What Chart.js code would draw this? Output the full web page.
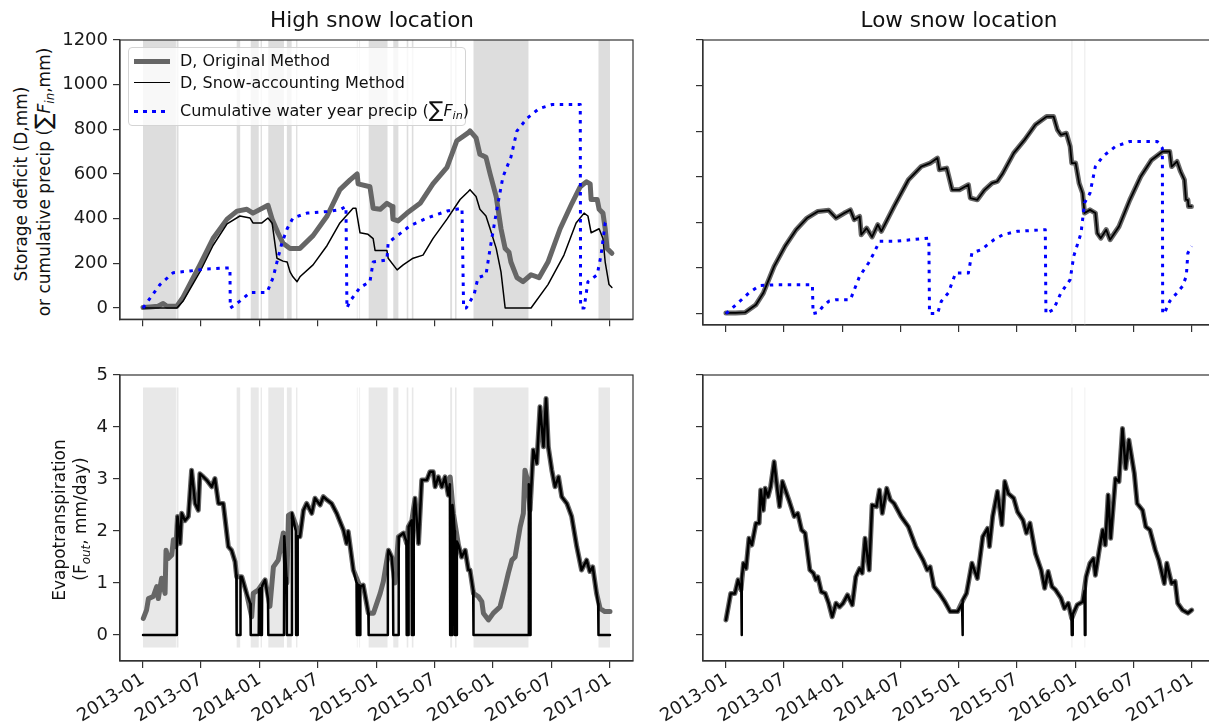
<!DOCTYPE html>
<html><head><meta charset="utf-8">
<script src="https://cdn.jsdelivr.net/npm/chart.js@4.4.1/dist/chart.umd.min.js"></script>
<style>
html,body{margin:0;padding:0;background:#fff;width:1209px;height:726px;overflow:hidden;position:relative;font-family:"DejaVu Sans",sans-serif;color:#111;}
canvas{position:absolute;}
.title{position:absolute;font-size:21.5px;white-space:nowrap;transform:translateX(-50%);line-height:24px;}
.ylab{position:absolute;font-size:17px;white-space:nowrap;transform:translate(-50%,-50%) rotate(-90deg);line-height:20px;}
.sig{font-size:1.35em;line-height:0;position:relative;top:0.05em;}
.sb{font-size:0.7em;font-style:italic;position:relative;top:0.3em;}
#legend{position:absolute;left:128px;top:47px;width:338px;height:79px;border:1px solid #d4d4d4;border-radius:4px;background:rgba(255,255,255,0.8);box-sizing:border-box;z-index:5;}
.lrow{position:absolute;left:0;white-space:nowrap;font-size:16px;line-height:20px;}
.lline{position:absolute;left:5px;width:36px;}
.ltxt{position:absolute;left:51px;top:-10px;}
</style>
</head><body>
<canvas id="cTL" width="578" height="315" style="left:60px;top:20px"></canvas>
<canvas id="cTR" width="577" height="315" style="left:643px;top:20px"></canvas>
<canvas id="cBL" width="578" height="371" style="left:60px;top:355px"></canvas>
<canvas id="cBR" width="577" height="371" style="left:643px;top:355px"></canvas>

<div class="title" style="left:372px;top:8px">High snow location</div>
<div class="title" style="left:959px;top:8px">Low snow location</div>

<div class="ylab" style="left:21px;top:184px">Storage deficit (D,mm)</div>
<div class="ylab" style="left:45px;top:182px">or cumulative precip (<span class="sig">∑</span><i>F</i><span class="sb">in</span>,mm)</div>
<div class="ylab" style="left:59px;top:520px">Evapotranspiration</div>
<div class="ylab" style="left:81px;top:519px">(F<span class="sb">out</span>, mm/day)</div>

<div id="legend">
  <div class="lrow" style="top:13px"><div class="lline" style="top:-2.5px;border-top:5px solid #666"></div><div class="ltxt">D, Original Method</div></div>
  <div class="lrow" style="top:35px"><div class="lline" style="top:-0.75px;border-top:1.5px solid #000"></div><div class="ltxt">D, Snow-accounting Method</div></div>
  <div class="lrow" style="top:63px"><div class="lline" style="top:-1.5px;height:3px;background:repeating-linear-gradient(90deg,#0000ff 0 3.5px,transparent 3.5px 9px)"></div><div class="ltxt">Cumulative water year precip (<span class="sig">∑</span><i>F</i><span class="sb">in</span>)</div></div>
</div>

<script>
// ---------- axes ----------
// x values are days since 2013-01-01
const xTickDays   = [0, 181, 365, 546, 730, 911, 1095, 1277, 1461];
const xTickLabels = ['2013-01','2013-07','2014-01','2014-07','2015-01','2015-07','2016-01','2016-07','2017-01'];
const yTicksD  = [0, 200, 400, 600, 800, 1000, 1200];
const yTicksET = [0, 1, 2, 3, 4, 5];

// ---------- High snow location ----------
const hiDOriginal = [[0,2],[22,5],[47,8],[63,20],[75,8],[106,8],[125,48],[178,193],[219,311],[263,398],[294,434],[325,442],[344,425],[391,460],[404,398],[422,337],[438,290],[460,267],[491,267],[532,324],[576,412],[616,530],[648,574],[670,600],[673,556],[710,543],[720,447],[742,442],[763,469],[779,455],[782,398],[798,390],[826,425],[867,469],[907,556],[951,630],[982,749],[1017,784],[1023,793],[1042,762],[1054,688],[1073,675],[1086,600],[1105,499],[1120,355],[1133,267],[1145,250],[1151,206],[1170,136],[1189,118],[1214,149],[1239,136],[1267,206],[1305,355],[1342,469],[1368,543],[1387,565],[1399,556],[1402,486],[1421,486],[1427,442],[1439,425],[1446,355],[1452,267],[1467,245]];
const hiDSnow = [[0,0],[106,0],[125,30],[178,162],[219,280],[263,377],[303,412],[335,403],[344,381],[372,381],[391,403],[404,380],[419,223],[438,210],[451,206],[460,162],[469,140],[482,118],[491,140],[532,193],[576,280],[616,381],[657,447],[666,447],[679,337],[704,330],[720,311],[726,258],[763,258],[767,223],[795,171],[814,193],[845,223],[876,237],[907,311],[951,398],[992,486],[1017,521],[1023,530],[1042,499],[1054,442],[1073,412],[1086,355],[1105,267],[1120,162],[1133,0],[1214,0],[1267,105],[1317,237],[1355,381],[1380,425],[1392,412],[1402,337],[1427,355],[1439,311],[1446,206],[1458,105],[1467,92]];
const hiPrecip = [[0,0],[53,105],[94,158],[147,166],[200,175],[272,180],[273,0],[303,31],[335,70],[388,70],[407,136],[422,223],[435,293],[451,355],[469,403],[513,425],[576,432],[616,440],[635,455],[638,0],[648,31],[679,92],[710,118],[720,206],[763,215],[767,293],[804,333],[835,368],[889,403],[951,434],[998,447],[1003,0],[1011,0],[1036,61],[1048,136],[1073,149],[1086,267],[1105,425],[1126,587],[1151,675],[1170,793],[1202,850],[1239,893],[1280,911],[1368,911],[1369,0],[1380,0],[1392,118],[1421,149],[1433,237],[1446,381],[1455,390]];
const hiEtOriginal = [[1,0.32],[11,0.48],[17,0.70],[32,0.74],[43,0.93],[48,0.70],[58,1.09],[69,0.80],[72,1.63],[79,1.47],[90,1.54],[95,1.83],[103,1.70],[108,2.28],[116,1.76],[121,2.34],[131,2.20],[142,2.28],[152,3.17],[163,2.53],[173,2.40],[178,3.10],[189,3.04],[199,2.98],[215,2.85],[225,3.01],[236,2.53],[251,2.53],[267,1.70],[277,1.63],[288,1.41],[293,1.12],[309,1.12],[324,0.80],[340,0.35],[345,0.80],[361,0.87],[382,1.06],[397,0.55],[408,1.31],[423,1.44],[439,1.96],[450,1.00],[455,2.30],[465,2.34],[491,1.89],[502,2.40],[512,2.53],[528,2.34],[538,2.63],[554,2.50],[564,2.66],[575,2.60],[590,2.53],[606,2.34],[627,2.02],[637,1.76],[642,1.99],[658,1.25],[679,0.93],[689,0.96],[705,0.42],[721,0.42],[742,0.80],[752,1.03],[768,1.63],[778,1.50],[788,1.00],[799,1.89],[815,1.96],[825,1.76],[830,2.08],[841,2.20],[851,2.63],[862,1.76],[872,2.98],[888,2.98],[898,3.14],[908,3.14],[914,2.85],[924,3.04],[935,2.85],[945,3.04],[955,2.69],[961,3.04],[971,2.34],[987,1.73],[997,1.50],[1008,1.63],[1018,1.25],[1023,1.25],[1034,0.80],[1049,0.74],[1060,0.64],[1065,0.42],[1081,0.29],[1096,0.42],[1117,0.54],[1133,0.93],[1143,1.19],[1154,1.44],[1164,1.50],[1180,2.08],[1190,2.34],[1195,3.17],[1203,2.98],[1211,2.40],[1221,3.56],[1232,3.30],[1242,4.39],[1253,3.62],[1261,4.55],[1268,3.62],[1279,3.17],[1289,2.85],[1300,3.04],[1310,2.66],[1326,2.53],[1341,2.28],[1357,1.70],[1372,1.25],[1388,1.44],[1398,1.22],[1407,1.31],[1419,0.80],[1430,0.51],[1445,0.45],[1461,0.45]];
const hiEtSnow = [[0,0],[106,0],[106,2.1],[108,2.28],[116,1.76],[121,2.34],[131,2.20],[142,2.28],[152,3.17],[163,2.53],[173,2.40],[178,3.10],[189,3.04],[199,2.98],[215,2.85],[225,3.01],[236,2.53],[251,2.53],[267,1.70],[277,1.63],[288,1.41],[292,1.15],[293,0],[304,0],[305,1.12],[309,1.12],[324,0.80],[336,0.6],[337,0],[362,0],[363,0.87],[367,0.9],[368,0],[372,0],[373,0.95],[382,1.06],[391,0.7],[392,0],[441,0],[442,1.9],[449,1.1],[450,0],[465,0],[466,2.34],[478,2.0],[479,0],[483,0],[484,1.9],[491,1.89],[502,2.40],[512,2.53],[528,2.34],[538,2.63],[554,2.50],[564,2.66],[575,2.60],[590,2.53],[606,2.34],[627,2.02],[637,1.76],[642,1.99],[658,1.25],[668,1.0],[669,0],[671,0],[672,0.97],[676,0.95],[677,0],[679,0],[680,0.93],[689,0.96],[700,0.6],[705,0.42],[706,0],[765,0],[766,1.55],[768,1.63],[778,1.50],[782,1.2],[783,0],[799,0],[800,1.89],[815,1.96],[824,1.8],[825,0],[830,0],[831,2.08],[840,2.2],[841,0],[846,0],[847,2.4],[851,2.63],[862,1.76],[872,2.98],[888,2.98],[898,3.14],[908,3.14],[914,2.85],[924,3.04],[935,2.85],[945,3.04],[955,2.69],[960,2.9],[961,0],[967,0],[968,2.5],[971,2.34],[975,2.0],[976,0],[981,0],[982,1.8],[987,1.73],[997,1.50],[1008,1.63],[1018,1.25],[1023,1.25],[1033,0.85],[1034,0],[1206,0],[1207,2.9],[1210,2.5],[1211,0],[1212,0],[1213,2.6],[1221,3.56],[1232,3.30],[1242,4.39],[1253,3.62],[1261,4.55],[1268,3.62],[1279,3.17],[1289,2.85],[1300,3.04],[1310,2.66],[1326,2.53],[1341,2.28],[1357,1.70],[1372,1.25],[1388,1.44],[1398,1.22],[1407,1.31],[1419,0.80],[1424,0.6],[1425,0],[1461,0]];
const hiSnowDays = [[0,103],[105,111],[293,304],[337,362],[368,372],[392,441],[450,465],[479,483],[669,671],[677,679],[706,765],[783,799],[825,830],[841,846],[961,967],[976,981],[1034,1206],[1211,1212],[1425,1461]];

// ---------- Low snow location ----------
const loD = [[0,3],[30,3],[60,5],[72,17],[94,39],[117,90],[151,207],[185,295],[220,368],[254,419],[288,448],[322,453],[345,419],[370,440],[390,455],[402,412],[419,426],[424,346],[441,375],[458,336],[476,390],[487,361],[527,470],[572,587],[612,645],[640,660],[663,682],[669,631],[692,638],[709,543],[732,543],[760,565],[766,507],[788,499],[811,543],[834,572],[851,580],[868,616],[902,704],[936,762],[970,828],[1005,864],[1027,864],[1039,806],[1050,784],[1067,791],[1079,733],[1084,660],[1096,660],[1107,572],[1118,528],[1124,441],[1141,455],[1158,441],[1164,353],[1175,331],[1192,368],[1204,324],[1232,382],[1266,499],[1300,601],[1334,674],[1369,711],[1391,711],[1397,645],[1414,667],[1425,623],[1437,587],[1442,499],[1448,499],[1450,470],[1459,470]];
const loPrecip = [[0,0],[38,47],[72,91],[106,123],[163,127],[271,127],[273,0],[290,5],[300,25],[322,54],[345,61],[390,61],[419,164],[447,222],[464,266],[481,317],[527,317],[636,331],[638,0],[663,0],[675,54],[697,91],[720,178],[760,178],[771,266],[800,280],[840,324],[868,346],[914,361],[1001,368],[1003,0],[1027,18],[1050,91],[1079,149],[1090,251],[1113,353],[1124,485],[1141,528],[1158,645],[1181,689],[1221,733],[1266,755],[1352,755],[1368,726],[1369,0],[1374,0],[1391,54],[1414,91],[1431,120],[1443,164],[1448,266],[1460,295]];
const loEtOriginal = [[0,0.29],[15,0.8],[28,0.8],[38,1.06],[47,0.87],[55,1.38],[63,1.28],[72,1.86],[81,1.73],[94,2.15],[104,2.15],[109,2.79],[117,2.4],[123,2.82],[132,2.66],[140,2.85],[151,3.33],[160,2.85],[168,2.47],[177,2.95],[197,2.6],[214,2.28],[225,2.34],[237,2.02],[248,1.96],[263,1.25],[274,1.19],[282,1.06],[288,1.12],[299,0.83],[311,0.8],[322,0.61],[333,0.35],[345,0.61],[356,0.54],[367,0.61],[381,0.77],[396,0.58],[407,1.12],[419,1.28],[427,1.19],[436,1.86],[449,1.25],[458,2.5],[472,2.47],[481,2.79],[490,2.34],[504,2.82],[515,2.6],[527,2.53],[549,2.28],[572,2.08],[595,1.7],[618,1.44],[631,1.25],[640,1.31],[652,0.93],[669,0.8],[686,0.64],[703,0.45],[726,0.45],[743,0.67],[754,0.8],[771,1.38],[788,1.09],[805,1.89],[820,2.05],[826,1.7],[836,2.28],[851,2.76],[865,2.12],[874,2.95],[885,2.72],[902,2.63],[914,2.37],[931,2.21],[942,1.96],[953,2.15],[970,1.57],[988,1.25],[999,0.9],[1010,1.22],[1022,0.93],[1033,0.87],[1050,0.71],[1061,0.51],[1073,0.61],[1084,0.32],[1101,0.58],[1118,0.64],[1129,1.12],[1141,1.38],[1152,1.47],[1158,1.15],[1170,1.63],[1181,2.02],[1189,1.73],[1198,2.69],[1206,1.86],[1221,3.01],[1232,2.95],[1243,3.97],[1253,3.2],[1263,3.75],[1280,3.11],[1289,2.53],[1306,2.4],[1316,2.08],[1329,2.02],[1346,1.63],[1357,1.44],[1374,0.99],[1382,1.38],[1397,0.99],[1408,1.03],[1416,0.61],[1431,0.48],[1448,0.42],[1460,0.48]];
const loEtSnow = [[0,0.29],[15,0.8],[28,0.8],[38,1.06],[47,0.87],[48,0.9],[49,0],[50,1.1],[55,1.38],[63,1.28],[72,1.86],[81,1.73],[94,2.15],[104,2.15],[109,2.79],[117,2.4],[123,2.82],[132,2.66],[140,2.85],[151,3.33],[160,2.85],[168,2.47],[177,2.95],[197,2.6],[214,2.28],[225,2.34],[237,2.02],[248,1.96],[263,1.25],[274,1.19],[282,1.06],[288,1.12],[299,0.83],[311,0.8],[322,0.61],[333,0.35],[345,0.61],[356,0.54],[367,0.61],[381,0.77],[396,0.58],[407,1.12],[419,1.28],[427,1.19],[436,1.86],[449,1.25],[458,2.5],[472,2.47],[481,2.79],[490,2.34],[504,2.82],[515,2.6],[527,2.53],[549,2.28],[572,2.08],[595,1.7],[618,1.44],[631,1.25],[640,1.31],[652,0.93],[669,0.8],[686,0.64],[703,0.45],[726,0.45],[740,0.6],[741,0],[742,0.6],[743,0.67],[754,0.8],[771,1.38],[788,1.09],[805,1.89],[820,2.05],[826,1.7],[836,2.28],[851,2.76],[865,2.12],[874,2.95],[885,2.72],[902,2.63],[914,2.37],[931,2.21],[942,1.96],[953,2.15],[970,1.57],[988,1.25],[999,0.9],[1010,1.22],[1022,0.93],[1033,0.87],[1050,0.71],[1061,0.51],[1073,0.61],[1083,0.35],[1084,0],[1086,0],[1087,0.4],[1101,0.58],[1118,0.64],[1124,0.85],[1125,0],[1126,0],[1127,1.0],[1129,1.12],[1141,1.38],[1152,1.47],[1158,1.15],[1170,1.63],[1181,2.02],[1189,1.73],[1198,2.69],[1206,1.86],[1221,3.01],[1232,2.95],[1243,3.97],[1253,3.2],[1263,3.75],[1280,3.11],[1289,2.53],[1306,2.4],[1316,2.08],[1329,2.02],[1346,1.63],[1357,1.44],[1374,0.99],[1382,1.38],[1397,0.99],[1408,1.03],[1416,0.61],[1431,0.48],[1448,0.42],[1460,0.48]];
const loSnowDays = [[48,50],[740,742],[1083,1086],[1124,1127]];

// ---------- rendering ----------
Chart.defaults.font.family = "'DejaVu Sans', sans-serif";
const X_MIN = -72, X_MAX = 1533;
const pts = a => a.map(p => ({x: p[0], y: p[1]}));
function bandPts(bands, lo, hi) {
  const out = [];
  bands.forEach(b => out.push({x:b[0],y:lo},{x:b[0],y:hi},{x:b[1],y:hi},{x:b[1],y:lo}));
  return out;
}
const framePlugin = {
  id: 'frame',
  afterDatasetsDraw(chart) {
    const {ctx, chartArea: a} = chart;
    ctx.save(); ctx.strokeStyle = '#333'; ctx.lineWidth = 1.2;
    ctx.strokeRect(a.left, a.top, a.right - a.left, a.bottom - a.top);
    ctx.restore();
  }
};
function lineDs(data, color, width, order, dash) {
  return {type:'line', data: pts(data), borderColor: color, borderWidth: width, pointRadius: 0,
          tension: 0, fill: false, order: order, borderDash: dash || [], borderJoinStyle: 'round',
          borderCapStyle: dash ? 'butt' : 'round'};
}
function bandDs(bands, lo, hi, color) {
  return {type:'line', data: bandPts(bands, lo, hi), borderWidth: 0, pointRadius: 0, tension: 0,
          backgroundColor: color, fill: {value: lo}, order: 10};
}
function build(id, datasets, yMin, yMax, yTicks, showX, showY) {
  const gridOpt = {drawOnChartArea: false, drawTicks: true, tickLength: 7, color: '#333', lineWidth: 1.2};
  const borderOpt = {display: true, color: '#333', width: 1.2};
  new Chart(document.getElementById(id), {
    type: 'line',
    data: {datasets},
    options: {
      responsive: false, animation: false, devicePixelRatio: 1, events: [],
      layout: {padding: {top: 20, right: 5, left: 0, bottom: 0}},
      plugins: {legend: {display: false}, tooltip: {enabled: false}},
      scales: {
        x: {type: 'linear', min: X_MIN, max: X_MAX,
            afterBuildTicks: s => { s.ticks = xTickDays.map(v => ({value: v})); },
            ticks: {display: showX, autoSkip: false, minRotation: 32, maxRotation: 32, padding: 1,
                    color: '#1a1a1a', font: {size: 18, family: "'DejaVu Sans', sans-serif"},
                    callback: (v, i) => xTickLabels[i]},
            grid: gridOpt, border: borderOpt,
            afterFit: s => { s.height = showX ? 65 : 10; }},
        y: {type: 'linear', min: yMin, max: yMax,
            afterBuildTicks: s => { s.ticks = yTicks.map(v => ({value: v})); },
            ticks: {display: showY, padding: 5, color: '#1a1a1a', font: {size: 18},
                    callback: v => String(v)},
            grid: gridOpt, border: borderOpt,
            afterFit: s => { s.width = 60; }}
      }
    },
    plugins: [framePlugin]
  });
}

build('cTL', [
  lineDs(hiPrecip, '#0000ff', 3, 1, [3.5, 5.5]),
  lineDs(hiDSnow, '#000000', 1.5, 2),
  lineDs(hiDOriginal, '#666666', 5, 3),
  bandDs(hiSnowDays, -50, 1200, '#dddddd')
], -50, 1200, yTicksD, false, true);

build('cTR', [
  lineDs(loPrecip, '#0000ff', 3, 1, [3.5, 5.5]),
  lineDs(loD, '#000000', 1.8, 2),
  lineDs(loD, '#666666', 5, 3),
  bandDs(loSnowDays, -50, 1200, '#e2e2e2')
], -50, 1200, yTicksD, false, false);

build('cBL', [
  lineDs(hiEtSnow, '#000000', 2.5, 2),
  lineDs(hiEtOriginal, '#666666', 5, 3),
  bandDs(hiSnowDays, -0.24, 4.76, '#e8e8e8')
], -0.5, 5, yTicksET, true, true);

build('cBR', [
  lineDs(loEtSnow, '#000000', 2.5, 2),
  lineDs(loEtOriginal, '#666666', 5, 3),
  bandDs(loSnowDays, -0.24, 4.76, '#ebebeb')
], -0.5, 5, yTicksET, true, false);
</script>
</body></html>
